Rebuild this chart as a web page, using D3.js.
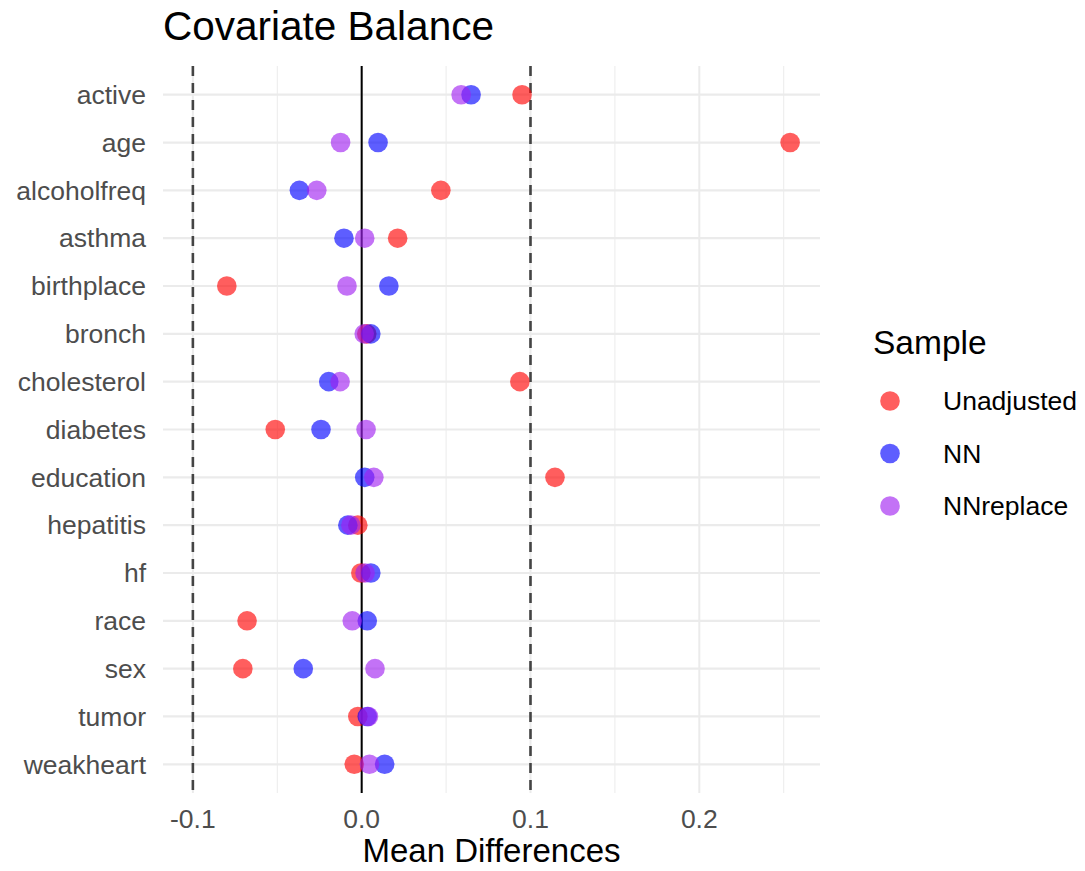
<!DOCTYPE html>
<html><head><meta charset="utf-8">
<script src="https://cdn.jsdelivr.net/npm/d3@7"></script>
<style>body{margin:0;background:#fff;} text{font-family:"Liberation Sans",Arial,sans-serif;}</style>
</head><body><svg id="c" width="1085" height="871"></svg>
<script>
const covariates = ["active","age","alcoholfreq","asthma","birthplace","bronch","cholesterol","diabetes","education","hepatitis","hf","race","sex","tumor","weakheart"];
const samples = ["Unadjusted","NN","NNreplace"];
const unadjusted = [0.095, 0.2538, 0.0469, 0.0213, -0.0799, 0.003, 0.0937, -0.0512, 0.1145, -0.0023, -0.0005, -0.0679, -0.0704, -0.0023, -0.0044];
const nn         = [0.0648, 0.0097, -0.0369, -0.0105, 0.0161, 0.0054, -0.0195, -0.0241, 0.0018, -0.0082, 0.0054, 0.0033, -0.0346, 0.0033, 0.0136];
const nnreplace  = [0.0589, -0.0125, -0.0266, 0.0018, -0.0087, 0.0015, -0.0128, 0.0026, 0.0072, -0.0064, 0.002, -0.0056, 0.0079, 0.004, 0.0046];
const xTicks = [-0.1, 0.0, 0.1, 0.2];
const xTickLabels = ["-0.1", "0.0", "0.1", "0.2"];
const xMinor = [-0.05, 0.05, 0.15, 0.25];
const thresholds = [-0.1, 0.1];
const colors = ["#ff0000","#0000ff","#a020f0"];

const svg = d3.select("#c");
const L = 163, R = 820, T = 66, B = 793;
const x = d3.scaleLinear().domain([-0.1177, 0.2715]).range([L, R]);
const y = d3.scalePoint().domain(covariates).range([T, B]).padding(0.6);

svg.append("g").selectAll("line").data(xMinor).join("line")
  .attr("x1", d=>x(d)).attr("x2", d=>x(d)).attr("y1", T).attr("y2", B)
  .attr("stroke", "#ebebeb").attr("stroke-width", 1);
svg.append("g").selectAll("line").data(xTicks).join("line")
  .attr("x1", d=>x(d)).attr("x2", d=>x(d)).attr("y1", T).attr("y2", B)
  .attr("stroke", "#ebebeb").attr("stroke-width", 2);
svg.append("g").selectAll("line").data(covariates).join("line")
  .attr("x1", L).attr("x2", R).attr("y1", d=>y(d)).attr("y2", d=>y(d))
  .attr("stroke", "#ebebeb").attr("stroke-width", 2.2);

svg.append("g").selectAll("line").data(thresholds).join("line")
  .attr("x1", d=>x(d)).attr("x2", d=>x(d)).attr("y1", T).attr("y2", B)
  .attr("stroke", "#444").attr("stroke-width", 2.6).attr("stroke-dasharray", "10,7");
svg.append("line").attr("x1", x(0)).attr("x2", x(0)).attr("y1", T).attr("y2", B)
  .attr("stroke", "#000").attr("stroke-width", 2);

const series = [unadjusted, nn, nnreplace];
series.forEach((vals, si) => {
  svg.append("g").selectAll("circle").data(covariates).join("circle")
    .attr("cx", (d,i)=>x(vals[i])).attr("cy", d=>y(d)).attr("r", 9.8)
    .attr("fill", colors[si]).attr("fill-opacity", 0.63);
});

svg.append("g").selectAll("text").data(covariates).join("text")
  .attr("x", 146).attr("y", d=>y(d)).attr("dy", "0.35em").attr("text-anchor", "end")
  .attr("font-size", 26.5).attr("fill", "#4d4d4d").text(d=>d);

svg.append("g").selectAll("text").data(xTicks).join("text")
  .attr("x", d=>x(d)).attr("y", 828).attr("text-anchor", "middle")
  .attr("font-size", 26.5).attr("fill", "#4d4d4d").text((d,i)=>xTickLabels[i]);

svg.append("text").attr("x", (L+R)/2).attr("y", 862).attr("text-anchor", "middle")
  .attr("font-size", 33).attr("fill", "#000").text("Mean Differences");
svg.append("text").attr("x", 163).attr("y", 40)
  .attr("font-size", 40.5).attr("fill", "#000").text("Covariate Balance");

const lg = svg.append("g");
lg.append("text").attr("x", 873).attr("y", 354).attr("font-size", 33.5).attr("fill","#000").text("Sample");
lg.selectAll("circle").data(samples).join("circle")
  .attr("cx", 890).attr("cy", (d,i)=>401 + i*52.5).attr("r", 9.8)
  .attr("fill", (d,i)=>colors[i]).attr("fill-opacity", 0.63);
lg.selectAll("text.l").data(samples).join("text").attr("class","l")
  .attr("x", 943).attr("y", (d,i)=>401 + i*52.5).attr("dy","0.35em")
  .attr("font-size", 26.5).attr("fill", "#000").text(d=>d);
</script></body></html>
